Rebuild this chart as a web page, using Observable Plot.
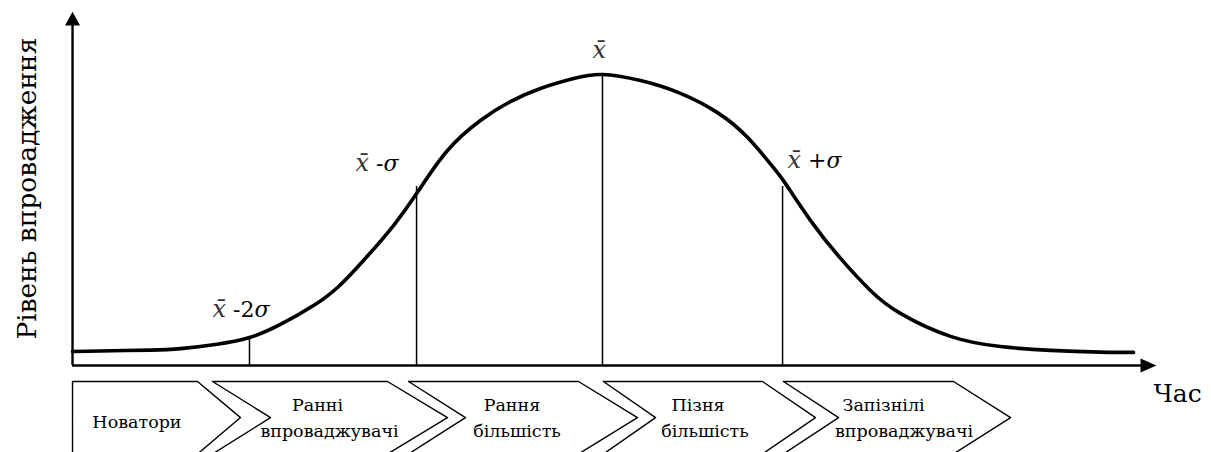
<!DOCTYPE html>
<html><head><meta charset="utf-8">
<script src="https://cdn.jsdelivr.net/npm/d3@7"></script>
<script src="https://cdn.jsdelivr.net/npm/@observablehq/plot@0.6"></script>
<style>body{margin:0;background:#fff}</style>
</head><body><div id="chart"></div>
<script>
// ---- data (time in σ units from the mean, adoption level in % of peak) ----
const curveT = [-2.896,-2.743,-2.470,-2.306,-2.115,-1.929,-1.760,-1.579,-1.448,-1.306,-1.142,-1.005,-0.847,-0.667,-0.503,-0.339,-0.158,0,0.208,0.426,0.628,0.792,0.934,1.000,1.137,1.301,1.464,1.628,1.902,2.175,2.448,2.721,2.902];
const curveLevel = [4.8,5.0,5.3,5.8,7.2,9.6,14.1,20.6,26.8,36.1,48.1,60.1,73.9,84.2,90.7,95.2,98.6,100,97.9,93.5,86.9,78.4,68.0,62.5,49.8,36.8,25.8,17.9,10.0,6.5,5.2,4.6,4.5];
const markerT = [-1.929, -1.016, 0, 0.984];
const markerLevel = [9.6, 61.5, 100, 61.5];
const markerSuffix = [" -2σ", " -σ", "", " +σ"];
const stageNames = ["Новатори", "Ранні\nвпроваджувачі", "Рання\nбільшість", "Пізня\nбільшість", "Запізнілі\nвпроваджувачі"];
const xTitle = "Час";
const yTitle = "Рівень впровадження";

// ---- layout ----
const axisX0 = -2.896, axisXEnd = 2.940, arrowLenX = 0.087, arrowHalfX = 2.4;
const axisYEnd = 116.8, arrowLenY = 4.8, arrowHalfY = 0.041;
const stageStart = [-2.896, -2.131, -1.060, 0.005, 0.989];
const stageNotch = [-2.896, -1.814, -0.749, 0.290, 1.290];
const stageEnd   = [-2.213, -1.175, -0.131, 0.874, 1.918];
const stagePoint = [-1.978, -0.847, 0.191, 1.164, 2.230];
const bandTop = -5.5, bandMid = -17.9, bandBottom = -30.4;
const stageLineX = [[-2.544], [-1.557, -1.492], [-0.495, -0.467], [0.522, 0.560], [1.536, 1.648]];
const stageLineY = [[-21.6], [-15.8, -24.4], [-15.8, -24.4], [-15.8, -24.4], [-15.8, -24.4]];
const markerLabelX = [-2.131, -1.350, -0.055, 1.011];
const markerLabelY = [16.5, 67.0, 105.5, 67.7];

const curve = curveT.map((t, i) => ({t, level: curveLevel[i]}));
const markers = markerT.map((t, i) => ({t, level: markerLevel[i]}));
const markerLabels = markerT.map((t, i) => ({t: markerLabelX[i], level: markerLabelY[i], text: "x\u0304" + markerSuffix[i]}));

const stagePolys = [];
stageNames.forEach((name, i) => {
  const pts = [[stageStart[i], bandTop], [stageEnd[i], bandTop], [stagePoint[i], bandMid], [stageEnd[i], bandBottom], [stageStart[i], bandBottom], [stageNotch[i], bandMid], [stageStart[i], bandTop]];
  pts.forEach(([t, level]) => stagePolys.push({stage: name, t, level}));
});
const stageText = [];
stageNames.forEach((name, i) => name.split("\n").forEach((line, j) => stageText.push({t: stageLineX[i][j], level: stageLineY[i][j], text: line})));

const xArrow = [{t: axisXEnd, level: arrowHalfX}, {t: axisXEnd + arrowLenX, level: 0}, {t: axisXEnd, level: -arrowHalfX}];
const yArrow = [{t: axisX0 - arrowHalfY, level: axisYEnd}, {t: axisX0, level: axisYEnd + arrowLenY}, {t: axisX0 + arrowHalfY, level: axisYEnd}];

const font = "DejaVu Serif";
const chart = Plot.plot({
  width: 1211, height: 452,
  marginTop: 0, marginRight: 0, marginBottom: 0, marginLeft: 0,
  x: {domain: [-3.2896, 3.3279], range: [0, 1211], axis: null},
  y: {domain: [0, 100], range: [365, 74], axis: null},
  marks: [
    Plot.line(stagePolys, {x: "t", y: "level", z: "stage", fill: "white", stroke: "black", strokeWidth: 1.4}),
    Plot.text(stageText, {x: "t", y: "level", text: "text", fontSize: 17.5, fontFamily: font, lineAnchor: "bottom", fill: "black"}),
    Plot.ruleY([0], {x1: axisX0, x2: axisXEnd + 0.01, stroke: "black", strokeWidth: 2.4}),
    Plot.ruleX([axisX0], {y1: 0, y2: axisYEnd + 0.5, stroke: "black", strokeWidth: 2.4}),
    Plot.line(xArrow, {x: "t", y: "level", fill: "black", stroke: "none"}),
    Plot.line(yArrow, {x: "t", y: "level", fill: "black", stroke: "none"}),
    Plot.ruleX(markers, {x: "t", y1: 0, y2: "level", stroke: "black", strokeWidth: 1.5}),
    Plot.line(curve, {x: "t", y: "level", curve: "natural", stroke: "black", strokeWidth: 3.6}),
    Plot.text(markerLabels, {x: "t", y: "level", text: "text", textAnchor: "start", lineAnchor: "bottom", fontSize: 22, fontFamily: font, fill: "black"}),
    Plot.text([xTitle], {x: 3.011, y: -12.7, textAnchor: "start", lineAnchor: "bottom", fontSize: 25, fontFamily: font, fill: "black"}),
    Plot.text([yTitle], {x: -3.093, y: 60.8, rotate: -90, textAnchor: "middle", lineAnchor: "bottom", fontSize: 26.5, fontFamily: font, fill: "black"})
  ]
});
document.getElementById("chart").append(chart);

// style the x̄ and σ glyphs like the math typesetting of the original
d3.select(chart).selectAll("text").each(function() {
  const el = this;
  const s = el.textContent;
  if (!s.startsWith("x\u0304")) return;
  el.textContent = "";
  const sel = d3.select(el);
  sel.append("tspan").attr("font-style", "italic").attr("font-size", 24).attr("fill", "#333").text("x\u0304");
  const rest = s.slice(2);
  const parts = rest.split("σ");
  if (rest.length) {
    sel.append("tspan").text(parts[0]);
    sel.append("tspan").attr("font-style", "italic").text("σ");
  }
});
</script>
</body></html>
